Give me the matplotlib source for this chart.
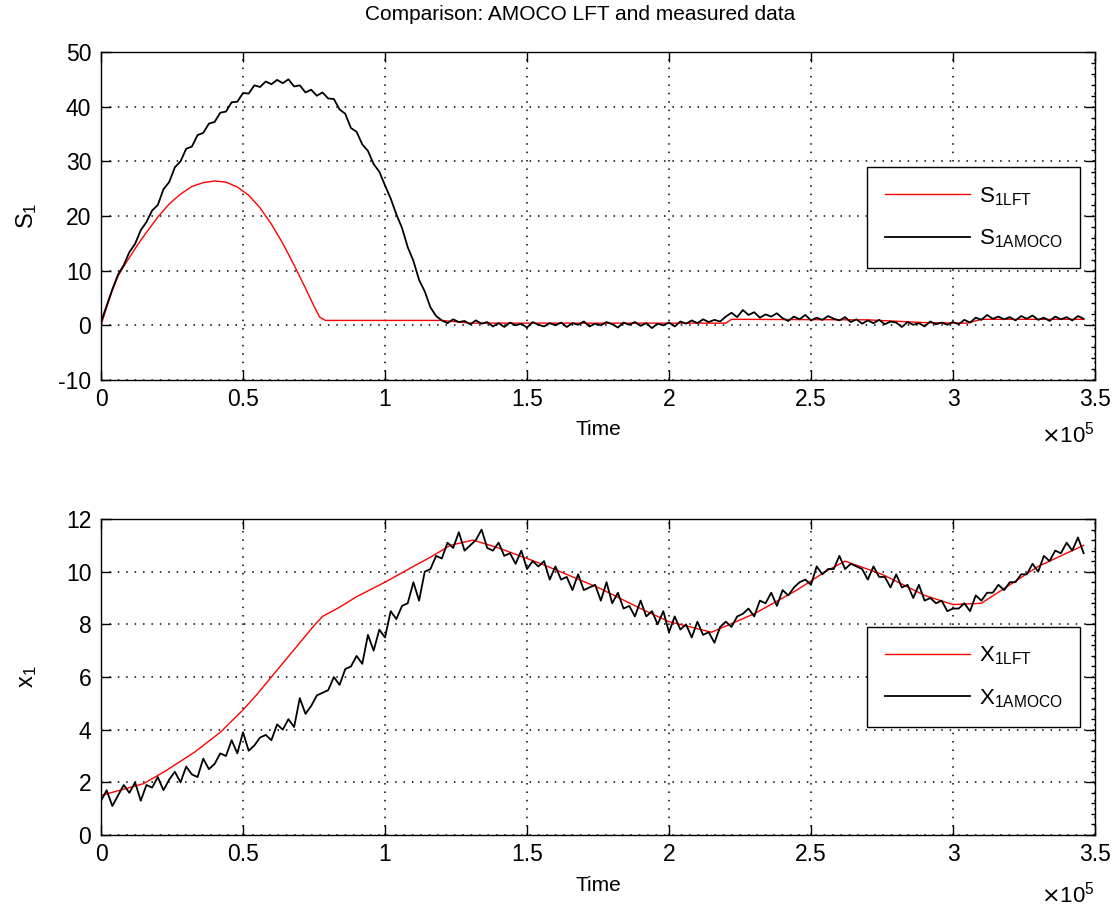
import numpy as np
import matplotlib
matplotlib.use("Agg")
import matplotlib.pyplot as plt
from matplotlib.ticker import AutoMinorLocator, FuncFormatter, MultipleLocator

plt.rcParams['font.family'] = ['Liberation Sans', 'DejaVu Sans']
plt.rcParams['axes.unicode_minus'] = False

# measured (AMOCO) data, one sample every 2000 time units
t_step = 2000
s1_amoco = [0.6, 3.6, 6.6, 9.3, 11.0, 13.4, 14.9, 17.4, 18.9, 21.0,
            22.0, 24.9, 26.2, 28.9, 30.0, 32.3, 32.7, 34.8, 35.2, 36.9,
            37.2, 38.9, 39.1, 40.8, 40.9, 42.5, 42.4, 43.9, 43.6, 44.6,
            44.1, 44.9, 44.3, 45.0, 43.7, 43.9, 42.6, 43.1, 42.0, 42.6,
            41.5, 41.4, 39.5, 38.7, 36.1, 35.4, 33.1, 31.9, 29.5, 28.1,
            25.6, 23.2, 20.3, 17.8, 14.3, 11.8, 8.3, 6.2, 3.3, 1.7,
            0.9, 0.4, 1.1, 0.6, 0.8, 0.2, 0.9, 0.3, 0.6, -0.2,
            0.4, -0.3, 0.5, 0.0, 0.3, -0.4, 0.6, 0.1, -0.2, 0.4,
            0.0, 0.5, -0.3, 0.4, 0.1, 0.7, -0.2, 0.3, 0.0, 0.6,
            0.2, -0.4, 0.5, 0.1, 0.6, -0.1, 0.4, -0.5, 0.3, 0.0,
            0.5, -0.2, 0.7, 0.3, 0.9, 0.4, 1.1, 0.6, 1.0, 0.7,
            1.6, 2.3, 1.5, 2.8, 1.9, 2.4, 1.4, 2.0, 1.6, 2.2,
            1.3, 0.8, 1.6, 1.1, 1.9, 0.9, 1.4, 1.0, 1.7, 1.2,
            0.9, 1.5, 0.6, 1.1, 0.3, 0.9, 0.4, 1.0, 0.2, 0.7,
            0.5, -0.3, 0.6, 0.1, 0.4, -0.2, 0.7, 0.2, 0.5, 0.1,
            0.6, 0.2, 1.0, 0.5, 1.4, 1.0, 1.9, 1.2, 1.6, 1.1,
            1.5, 0.9, 1.7, 1.2, 1.8, 1.0, 1.4, 0.8, 1.6, 1.1,
            1.5, 0.9, 1.7, 1.2]
x1_amoco = [1.3, 1.7, 1.1, 1.5, 1.9, 1.6, 2.0, 1.3, 1.9, 1.8,
            2.2, 1.7, 2.1, 2.4, 2.0, 2.6, 2.3, 2.2, 2.9, 2.5,
            2.7, 3.1, 3.0, 3.6, 3.1, 3.9, 3.2, 3.4, 3.7, 3.8,
            3.6, 4.2, 4.0, 4.4, 4.1, 5.2, 4.6, 4.9, 5.3, 5.4,
            5.5, 6.0, 5.7, 6.3, 6.4, 6.8, 6.5, 7.6, 7.0, 7.8,
            7.5, 8.5, 8.2, 8.7, 8.8, 9.6, 8.9, 10.0, 10.1, 10.6,
            10.5, 11.1, 10.9, 11.5, 10.8, 11.0, 11.2, 11.6, 10.9, 10.8,
            11.1, 10.6, 10.7, 10.3, 10.8, 10.1, 10.4, 10.2, 10.4, 9.7,
            10.2, 9.7, 9.8, 9.3, 9.9, 9.3, 9.4, 9.5, 8.9, 9.6,
            8.8, 9.2, 8.6, 8.7, 8.3, 8.9, 8.3, 8.5, 8.0, 8.5,
            7.7, 8.3, 7.8, 8.0, 7.5, 8.1, 7.6, 7.7, 7.3, 7.9,
            8.1, 7.9, 8.3, 8.4, 8.6, 8.3, 8.9, 8.8, 9.2, 8.7,
            9.3, 9.1, 9.4, 9.6, 9.7, 9.5, 10.2, 9.9, 10.1, 10.1,
            10.6, 10.1, 10.3, 10.2, 10.1, 9.7, 10.2, 9.8, 9.8, 9.4,
            9.9, 9.4, 9.5, 9.0, 9.5, 8.9, 9.0, 8.8, 8.9, 8.5,
            8.6, 8.6, 8.8, 8.5, 9.1, 8.9, 9.2, 9.2, 9.5, 9.3,
            9.6, 9.6, 9.9, 9.9, 10.3, 10.0, 10.6, 10.4, 10.8, 10.7,
            11.1, 10.8, 11.3, 10.7]

# LFT model output (time in units of 1e5)
s1_lft_t = [0, 0.02, 0.04, 0.06, 0.08, 0.10, 0.13, 0.16, 0.20, 0.24, 0.28, 0.32,
            0.36, 0.40, 0.44, 0.48, 0.52, 0.56, 0.60, 0.64, 0.68, 0.72, 0.75,
            0.77, 0.79, 1.20, 1.30, 2.20, 2.22, 2.70, 2.90, 3.05, 3.10, 3.46]
s1_lft = [0, 3.3, 6.4, 9.0, 10.8, 12.4, 14.8, 17.0, 19.8, 22.2, 24.0, 25.4,
          26.1, 26.4, 26.2, 25.3, 23.8, 21.5, 18.5, 15.0, 11.0, 6.8, 3.5,
          1.5, 0.9, 0.9, 0.4, 0.4, 1.1, 1.0, 0.5, 0.4, 1.1, 1.1]
x1_lft_t = [0, 0.15, 0.23, 0.33, 0.42, 0.50, 0.55, 0.60, 0.65, 0.70, 0.75, 0.78,
            0.84, 0.90, 1.00, 1.10, 1.16, 1.23, 1.31, 1.40, 1.55, 1.75, 1.90,
            2.00, 2.15, 2.30, 2.45, 2.55, 2.62, 2.75, 2.90, 3.00, 3.10, 3.20,
            3.30, 3.46]
x1_lft = [1.5, 1.95, 2.45, 3.15, 3.9, 4.75, 5.35, 6.0, 6.65, 7.3, 7.95, 8.3,
          8.65, 9.05, 9.6, 10.2, 10.55, 11.0, 11.2, 10.9, 10.3, 9.4, 8.6,
          8.1, 7.7, 8.4, 9.3, 10.0, 10.4, 9.9, 9.1, 8.75, 8.8, 9.5,
          10.2, 11.0]

time_s = np.arange(len(s1_amoco)) * t_step
time_x = np.arange(len(x1_amoco)) * t_step

W, H = 1116, 906
fig = plt.figure(figsize=(W / 100, H / 100), dpi=100)
ax1 = fig.add_axes([101 / W, 1 - 380 / H, 994 / W, 328 / H])
ax2 = fig.add_axes([101 / W, 1 - 835 / H, 994 / W, 316 / H])


def style(ax, ylim, ystep):
    ax.set_xlim(0, 3.5e5)
    ax.set_ylim(*ylim)
    ax.xaxis.set_major_locator(MultipleLocator(0.5e5))
    ax.xaxis.set_major_formatter(FuncFormatter(lambda v, p: '%g' % (v / 1e5)))
    ax.yaxis.set_major_locator(MultipleLocator(ystep))
    ax.yaxis.set_minor_locator(AutoMinorLocator(5))
    ax.tick_params(which='major', direction='in', length=7, width=1,
                   top=True, right=True, labelsize=16.5, pad=6)
    ax.tick_params(axis='y', which='major', pad=7)
    ax.tick_params(which='minor', direction='in', length=3, width=1,
                   left=False, right=True)
    ax.grid(True, color='k', linestyle=(0, (1, 4.5)), linewidth=1.1, zorder=0)
    for sp in ax.spines.values():
        sp.set_linewidth(1.0)
    ax.set_xlabel('Time', fontsize=15)
    ax.xaxis.label.set_va('center')


ax1.plot(np.array(s1_lft_t) * 1e5, s1_lft, color='r', lw=1.0, label=r'$\mathregular{S_{1LFT}}$')
ax1.plot(time_s, s1_amoco, color='k', lw=1.3, label=r'$\mathregular{S_{1AMOCO}}$')
style(ax1, (-10, 50), 10)
ax1.xaxis.set_label_coords(0.5, -0.152)
ax1.set_ylabel(r'$\mathregular{S_1}$', fontsize=17)
ax1.yaxis.set_label_coords(-0.062, 0.5)

ax2.plot(np.array(x1_lft_t) * 1e5, x1_lft, color='r', lw=1.0, label=r'$\mathregular{X_{1LFT}}$')
ax2.plot(time_x, x1_amoco, color='k', lw=1.3, label=r'$\mathregular{X_{1AMOCO}}$')
style(ax2, (0, 12), 2)
ax2.xaxis.set_label_coords(0.5, -0.161)
ax2.set_ylabel(r'$\mathregular{x_1}$', fontsize=17)
ax2.yaxis.set_label_coords(-0.062, 0.5)

for ax, yc, off_y in [(ax1, 0.495, -0.165), (ax2, 0.50, -0.19)]:
    leg = ax.legend(loc='center', bbox_to_anchor=(0.878, yc), fontsize=16,
                    handlelength=3.8, handletextpad=0.4, borderpad=0.8,
                    labelspacing=0.9, fancybox=False, edgecolor='k',
                    framealpha=1)
    leg.get_frame().set_linewidth(1.0)
    ax.text(1.0, off_y, r'$\times\mathregular{10^{5}}$', transform=ax.transAxes,
            ha='right', va='center', fontsize=16)

fig.text(580 / W, 1 - 14 / H, 'Comparison: AMOCO LFT and measured data',
         ha='center', va='center', fontsize=15)

fig.savefig('out.png', dpi=100)
